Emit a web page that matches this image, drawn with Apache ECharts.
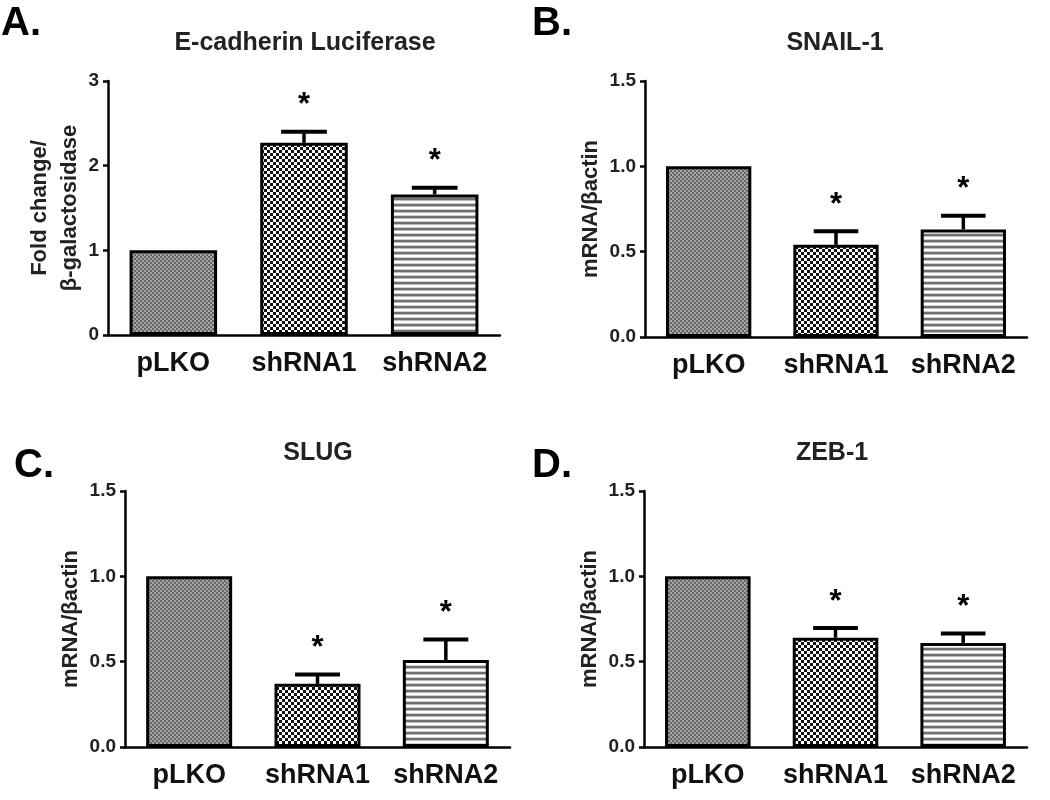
<!DOCTYPE html>
<html>
<head>
<meta charset="utf-8">
<script src="https://cdn.jsdelivr.net/npm/echarts@6/dist/echarts.min.js"></script>
<style>
html,body{margin:0;padding:0;background:#fff;}
#chart{width:1050px;height:800px;}
</style>
</head>
<body>
<div id="chart"></div>
<script>
// ---- data ----
const categories = ['pLKO', 'shRNA1', 'shRNA2'];
const panelLetters = ['A.', 'B.', 'C.', 'D.'];
const panelTitles = ['E-cadherin Luciferase', 'SNAIL-1', 'SLUG', 'ZEB-1'];
const yNames = ['Fold change/\nβ-galactosidase', 'mRNA/βactin', 'mRNA/βactin', 'mRNA/βactin'];
const eCadherinValues = [1.0, 2.27, 1.66];
const eCadherinErrors = [0, 0.13, 0.08];
const snail1Values = [1.0, 0.54, 0.63];
const snail1Errors = [0, 0.08, 0.08];
const slugValues = [1.0, 0.37, 0.51];
const slugErrors = [0, 0.055, 0.12];
const zeb1Values = [1.0, 0.64, 0.61];
const zeb1Errors = [0, 0.057, 0.055];
const significant = [false, true, true];
const yMaxes = [3, 1.5, 1.5, 1.5];
const yIntervals = [1, 0.5, 0.5, 0.5];

const panelValues = [eCadherinValues, snail1Values, slugValues, zeb1Values];
const panelErrors = [eCadherinErrors, snail1Errors, slugErrors, zeb1Errors];

// ---- patterns ----
function makeCanvas(w, h, draw) {
  const c = document.createElement('canvas');
  c.width = w; c.height = h;
  draw(c.getContext('2d'));
  return c;
}
const patFine = makeCanvas(4, 4, ctx => {
  ctx.fillStyle = '#a6a6a6'; ctx.fillRect(0, 0, 4, 4);
  ctx.fillStyle = '#666';
  ctx.fillRect(0, 0, 2, 2); ctx.fillRect(2, 2, 2, 2);
});
const patChecker = makeCanvas(6, 6, ctx => {
  ctx.fillStyle = '#111'; ctx.fillRect(0, 0, 6, 6);
  ctx.fillStyle = '#fff';
  ctx.fillRect(0, 0, 3, 3); ctx.fillRect(3, 3, 3, 3);
});
const patLines = makeCanvas(4, 6, ctx => {
  ctx.fillStyle = '#fff'; ctx.fillRect(0, 0, 4, 6);
  ctx.fillStyle = '#707070'; ctx.fillRect(0, 0, 4, 2);
  ctx.fillStyle = '#bbb'; ctx.fillRect(0, 2, 4, 1);
  ctx.fillStyle = '#d0d0d0'; ctx.fillRect(0, 5, 4, 1);
});
const patterns = [patFine, patChecker, patLines];

// ---- layout ----
const FONT = 'Liberation Sans, Arial, Helvetica, sans-serif';
const grids = [
  {left: 108, top: 81, width: 392, height: 254},
  {left: 645, top: 81, width: 382, height: 256},
  {left: 125, top: 491, width: 385, height: 256},
  {left: 644, top: 491, width: 383, height: 256}
];
const titlePos = [[305, 31], [835, 31], [318, 441], [832, 441]];
const letterPos = [[1, 4], [532, 4], [14, 446], [532, 446]];
const nameGaps = [21, 38, 38, 39];

const option = {
  animation: false,
  backgroundColor: '#fff',
  title: [],
  grid: grids.map(g => Object.assign({containLabel: false}, g)),
  xAxis: [],
  yAxis: [],
  series: []
};

for (let p = 0; p < 4; p++) {
  option.title.push({
    text: panelLetters[p], left: letterPos[p][0], top: letterPos[p][1], padding: 0,
    textStyle: {fontFamily: FONT, fontWeight: 'bold', fontSize: 40, color: '#000'}
  });
  option.title.push({
    text: panelTitles[p], left: titlePos[p][0], top: titlePos[p][1], padding: 0, textAlign: 'center',
    textStyle: {fontFamily: FONT, fontWeight: 'bold', fontSize: 25, color: '#222'}
  });
  option.xAxis.push({
    type: 'category', gridIndex: p, data: categories,
    axisTick: {show: false},
    axisLine: {lineStyle: {color: '#000', width: 2.5}},
    axisLabel: {interval: 0, hideOverlap: false, fontFamily: FONT, fontWeight: 'bold', fontSize: 27, color: '#111', margin: 15}
  });
  const isA = p === 0;
  option.yAxis.push({
    type: 'value', gridIndex: p, min: 0, max: yMaxes[p], interval: yIntervals[p],
    name: yNames[p], nameLocation: 'middle', nameGap: nameGaps[p],
    nameTextStyle: {fontFamily: FONT, fontWeight: 'bold', fontSize: 22, color: '#222', lineHeight: 30},
    axisLine: {show: true, lineStyle: {color: '#000', width: 2.5}},
    axisTick: {show: true, length: 5, lineStyle: {color: '#000', width: 2.5}},
    splitLine: {show: false},
    axisLabel: {
      fontFamily: FONT, fontWeight: 'bold', fontSize: 19, color: '#222', margin: 9,
      formatter: v => isA ? String(v) : v.toFixed(1)
    }
  });
  option.series.push({
    type: 'bar', xAxisIndex: p, yAxisIndex: p, barWidth: '67%', silent: true, z: 2,
    data: panelValues[p].map((v, i) => ({
      value: v,
      itemStyle: {color: {image: patterns[i], repeat: 'repeat'}, borderColor: '#000', borderWidth: 3}
    }))
  });
  option.series.push({
    type: 'custom', xAxisIndex: p, yAxisIndex: p, silent: true, z: 5,
    data: panelValues[p].map((v, i) => [i, v, panelErrors[p][i], significant[i] ? 1 : 0]),
    renderItem: function (params, api) {
      const idx = api.value(0), v = api.value(1), e = api.value(2), s = api.value(3);
      const p0 = api.coord([idx, v]);
      const p1 = api.coord([idx, v + e]);
      const bw = api.size([1, 0])[0];
      const half = bw * 0.175;
      const children = [];
      if (e > 0) {
        children.push({type: 'line', shape: {x1: p0[0], y1: p0[1], x2: p1[0], y2: p1[1]},
          style: {stroke: '#000', lineWidth: 3.5}});
        children.push({type: 'line', shape: {x1: p1[0] - half, y1: p1[1], x2: p1[0] + half, y2: p1[1]},
          style: {stroke: '#000', lineWidth: 4}});
      }
      if (s) {
        children.push({type: 'text', x: p1[0], y: p1[1] - 26,
          style: {text: '*', fontFamily: FONT, fontWeight: 'bold', fontSize: 31, fill: '#000',
            align: 'center', verticalAlign: 'middle'}});
      }
      return {type: 'group', children: children};
    }
  });
}

const chart = echarts.init(document.getElementById('chart'), null, {renderer: 'canvas'});
chart.setOption(option);
</script>
</body>
</html>
